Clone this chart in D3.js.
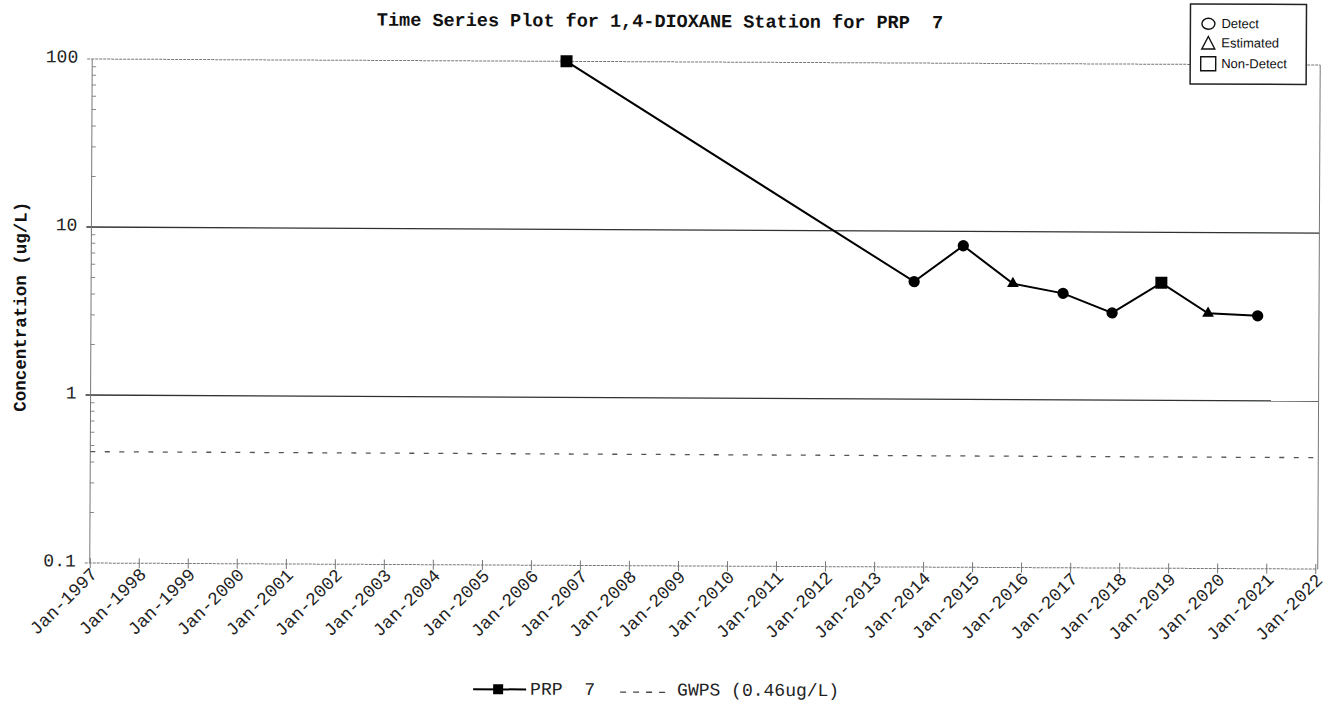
<!DOCTYPE html>
<html><head><meta charset="utf-8">
<script src="https://cdn.jsdelivr.net/npm/d3@7"></script>
<style>
html,body{margin:0;padding:0;background:#fff;}
svg{display:block;}
</style></head><body>
<svg id="chart" width="1333" height="704"></svg>
<script>
// ---- data ----
const chartTitle = "Time Series Plot for 1,4-DIOXANE Station for PRP  7";
const yAxisLabel = "Concentration (ug/L)";
const sampleDates = ["2006-09-05","2013-10-16","2014-10-16","2015-10-22","2016-10-30","2017-10-31","2018-11-01","2019-10-16","2020-10-20"];
const concentrations = [100, 5.0, 8.2, 4.9, 4.3, 3.3, 5.0, 3.3, 3.2];
const qualifiers = ["Non-Detect","Detect","Detect","Estimated","Detect","Detect","Non-Detect","Estimated","Detect"];
const gwpsValue = 0.46;
const yTickValues = [0.1, 1, 10, 100];
const yTickLabels = ["0.1", "1", "10", "100"];
const xDomain = ["1997-01-01", "2022-01-01"];
const legendSymbols = ["Detect", "Estimated", "Non-Detect"];
const seriesName = "PRP  7";
const gwpsName = "GWPS (0.46ug/L)";

// ---- chart ----
const svg = d3.select("#chart");
const root = svg.append("g").attr("transform", "rotate(0.28,700,310)");
const parse = d3.utcParse("%Y-%m-%d");
const x = d3.scaleUtc().domain(xDomain.map(parse)).range([91, 1316.5]);
const y = d3.scaleLog().domain([0.1, 100]).range([566, 62]);
const x0 = x.range()[0], xR = x.range()[1] + 2.5;
const mono = "'Liberation Mono','Courier New',monospace";

// minor ticks on y axis
const minor = y.ticks().filter(v => !yTickValues.some(t => Math.abs(t - v) < 1e-9));
root.append("g").selectAll("line").data(minor).join("line")
  .attr("x1", x0).attr("x2", x0 + 4)
  .attr("y1", d => y(d)).attr("y2", d => y(d))
  .attr("stroke", "#888").attr("stroke-width", 1);

// horizontal grid/axis lines
root.append("g").selectAll("line").data(yTickValues).join("line")
  .attr("x1", x0 - 5).attr("x2", xR)
  .attr("y1", d => y(d)).attr("y2", d => y(d))
  .attr("stroke", d => (d === 10 || d === 1) ? "#2e332e" : "#777")
  .attr("stroke-width", d => (d === 10 || d === 1) ? 1.3 : 1)
  .attr("stroke-dasharray", d => (d === 10 || d === 1) ? null : "3,1");

// left axis & right border
root.append("line").attr("x1", x0).attr("x2", x0).attr("y1", y(100)).attr("y2", y(0.1))
  .attr("stroke", "#777").attr("stroke-width", 1);
root.append("line").attr("x1", xR).attr("x2", xR).attr("y1", y(100)).attr("y2", y(0.1))
  .attr("stroke", "#777").attr("stroke-width", 1);

// y tick labels
root.append("g").selectAll("text").data(yTickValues).join("text")
  .attr("x", 77).attr("y", d => y(d) - 1.5)
  .attr("text-anchor", "end").attr("dominant-baseline", "central")
  .attr("font-family", mono).attr("font-size", 18).attr("fill", "#222")
  .text((d, i) => yTickLabels[i]);

// x axis
const xAxis = d3.axisBottom(x)
  .tickValues(d3.utcYear.range(parse(xDomain[0]), d3.utcDay.offset(parse(xDomain[1]), 1)))
  .tickFormat(d3.utcFormat("%b-%Y"))
  .tickSizeOuter(0).tickSizeInner(5);
const gx = root.append("g").attr("transform", `translate(0,${y(0.1)})`).call(xAxis);
gx.select(".domain").remove();
gx.selectAll(".tick line").attr("y1", -5).attr("y2", 5).attr("stroke", "#777");
gx.selectAll(".tick text")
  .attr("font-family", mono).attr("font-size", 18).attr("fill", "#222")
  .attr("text-anchor", "end").attr("dy", null).attr("y", null)
  .attr("transform", "translate(8,12) rotate(-45)");

// GWPS dashed line
root.append("line").attr("x1", x0).attr("x2", xR)
  .attr("y1", y(gwpsValue)).attr("y2", y(gwpsValue))
  .attr("stroke", "#555").attr("stroke-width", 1.3).attr("stroke-dasharray", "5,9.5");

// series
const pts = sampleDates.map((d, i) => ({ date: parse(d), value: concentrations[i], q: qualifiers[i] }));
root.append("path").datum(pts)
  .attr("d", d3.line().x(d => x(d.date)).y(d => y(d.value)))
  .attr("fill", "none").attr("stroke", "#000").attr("stroke-width", 2);
const symType = { "Detect": d3.symbolCircle, "Estimated": d3.symbolTriangle, "Non-Detect": d3.symbolSquare };
const symSize = { "Detect": 100, "Estimated": 60, "Non-Detect": 144 };
root.append("g").selectAll("path").data(pts).join("path")
  .attr("transform", d => `translate(${x(d.date)},${y(d.value)})`)
  .attr("d", d => d3.symbol().type(symType[d.q]).size(symSize[d.q])())
  .attr("fill", "#000");

// title
root.append("text").attr("x", 658.6).attr("y", 27.2).attr("text-anchor", "middle")
  .attr("font-family", mono).attr("font-weight", "bold").attr("font-size", 18.5).attr("fill", "#111")
  .attr("xml:space", "preserve").style("white-space", "pre")
  .text(chartTitle);

// y label
root.append("text").attr("transform", "translate(26,310) rotate(-90)").attr("text-anchor", "middle")
  .attr("font-family", mono).attr("font-weight", "bold").attr("font-size", 17.5).attr("fill", "#111")
  .text(yAxisLabel);

// symbol legend box
const lg = root.append("g");
lg.append("rect").attr("x", 1189).attr("y", 1.5).attr("width", 116).attr("height", 80)
  .attr("fill", "#fff").attr("stroke", "#222").attr("stroke-width", 1.5);
const legY = [21.3, 41, 61.3], legBase = [25.5, 44.8, 65.5];
const legSym = lg.selectAll("g.sym").data(legendSymbols).join("g").attr("class", "sym")
  .attr("transform", (d, i) => `translate(1207,${legY[i]})`);
legSym.each(function(d) {
  const g = d3.select(this);
  if (d === "Detect") g.append("ellipse").attr("rx", 6.5).attr("ry", 5.5);
  else if (d === "Estimated") g.append("path").attr("d", "M0,-7L6.5,5.5L-6.5,5.5Z");
  else g.append("rect").attr("x", -7.5).attr("y", -7).attr("width", 15).attr("height", 14);
  g.selectAll("*").attr("fill", "none").attr("stroke", "#111").attr("stroke-width", 1.4);
});
lg.selectAll("text").data(legendSymbols).join("text")
  .attr("x", 1220).attr("y", (d, i) => legBase[i])
  .attr("font-family", "'Liberation Sans',Arial,sans-serif").attr("font-size", 13).attr("fill", "#111")
  .text(d => d);

// bottom legend
const bl = root.append("g");
bl.append("line").attr("x1", 475).attr("x2", 528).attr("y1", 690.3).attr("y2", 690.3)
  .attr("stroke", "#000").attr("stroke-width", 2);
bl.append("path").attr("transform", "translate(500,690.3)")
  .attr("d", d3.symbol().type(d3.symbolSquare).size(100)()).attr("fill", "#000");
bl.append("text").attr("x", 532).attr("y", 695.5)
  .attr("font-family", mono).attr("font-size", 18).attr("fill", "#222")
  .style("white-space", "pre").text(seriesName);
bl.append("line").attr("x1", 622).attr("x2", 667).attr("y1", 692.5).attr("y2", 692.5)
  .attr("stroke", "#444").attr("stroke-width", 1.3).attr("stroke-dasharray", "6,7");
bl.append("text").attr("x", 679).attr("y", 695.5)
  .attr("font-family", mono).attr("font-size", 18).attr("fill", "#222")
  .text(gwpsName);
</script>
</body></html>
